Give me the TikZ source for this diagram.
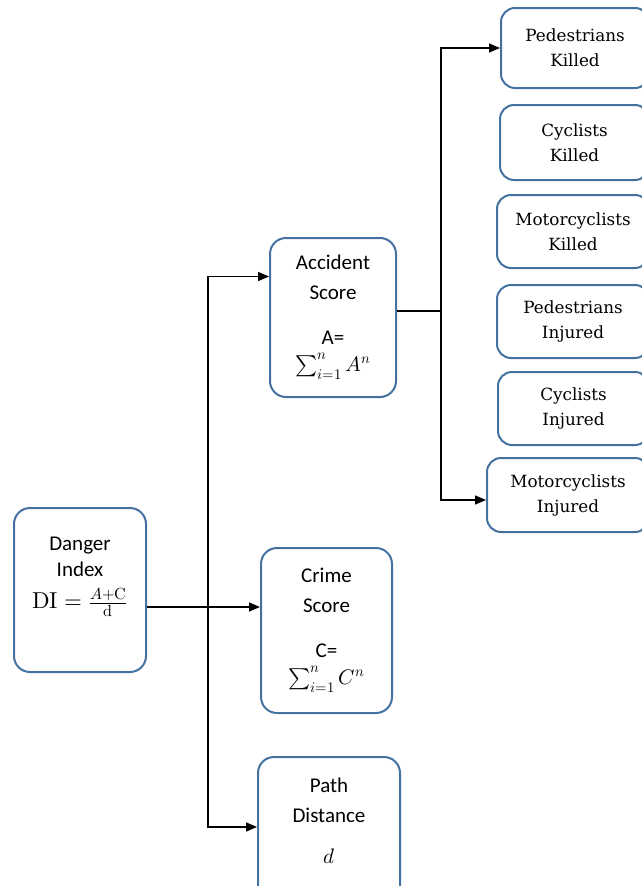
\documentclass[tikz,border=0pt]{standalone}
\usepackage{fontspec}
\usepackage{unicode-math}
\setmainfont{Carlito}
\setmathfont{Latin Modern Math}
\newfontfamily\leaffont{DejaVu Serif}
\usetikzlibrary{arrows.meta}
\definecolor{boxblue}{RGB}{68,114,160}

\begin{document}
\begin{tikzpicture}[x=1pt, y=-1pt, >={Triangle[length=11pt,width=9pt]}, line width=1.4pt,
    scorebox/.style={draw=boxblue, line width=2pt, rounded corners=16pt, align=center, inner sep=0pt,
        font=\fontsize{21}{30}\selectfont},
    leafbox/.style={draw=boxblue, line width=2pt, rounded corners=14pt, align=center, inner sep=0pt,
        font=\leaffont\fontsize{16.8}{25}\selectfont}]

    \useasboundingbox (0,0) rectangle (642,886);
    \clip (0,0) rectangle (642,886);

    % === 左邊: 指數與三個分數 ===
    \node[scorebox, minimum width=132pt, minimum height=164pt] (danger) at (80,590)
        {Danger\\[-4pt]Index\\[2pt]{\fontsize{23}{30}\selectfont$\symup{DI}=\frac{A+\symup{C}}{\symup{d}}$}\rule[-34pt]{0pt}{0pt}};
    \node[scorebox, minimum width=126pt, minimum height=159pt] (accident) at (333,317.5)
        {Accident\\Score\\[15pt]A=\\[-3pt]$\sum_{i=1}^{n} A^{n}$};
    \node[scorebox, minimum width=131pt, minimum height=165pt] (crime) at (326.5,630.5)
        {Crime\\Score\\[15pt]C=\\[-3pt]$\sum_{i=1}^{n} C^{n}$};
    \node[scorebox, minimum width=142pt, minimum height=150pt] (path) at (329,832)
        {Path\\Distance\\[11pt]$d$\rule[-22pt]{0pt}{0pt}};

    % === 右邊: 事故類別 ===
    \node[leafbox, minimum width=148pt, minimum height=80pt] (pedkilled) at (575,48) {Pedestrians\\Killed};
    \node[leafbox, minimum width=149pt, minimum height=75pt] (cyckilled) at (574.5,142.5) {Cyclists\\Killed};
    \node[leafbox, minimum width=152pt, minimum height=73pt] (motkilled) at (573,231.5) {Motorcyclists\\Killed};
    \node[leafbox, minimum width=152pt, minimum height=73pt] (pedinjured) at (573,321.5) {Pedestrians\\Injured};
    \node[leafbox, minimum width=151pt, minimum height=73pt] (cycinjured) at (573.5,408.5) {Cyclists\\Injured};
    \node[leafbox, minimum width=162pt, minimum height=74pt] (motinjured) at (568,495) {Motorcyclists\\Injured};

    % 分支點
    \coordinate (split) at (208,607);
    \coordinate (fork) at (441,311);

    % === 連接線 ===
    \draw (danger.east |- split) -- (split);
    \draw[->] (split) |- ([yshift=41pt]accident.west);
    \draw[->] (split) -- (split -| crime.west);
    \draw[->] (split) |- ([yshift=5pt]path.west);

    \draw (accident.east |- fork) -- (fork);
    \draw[->] (fork) |- (pedkilled.west);
    \draw[->] (fork) |- ([yshift=-5pt]motinjured.west);

\end{tikzpicture}
\end{document}
